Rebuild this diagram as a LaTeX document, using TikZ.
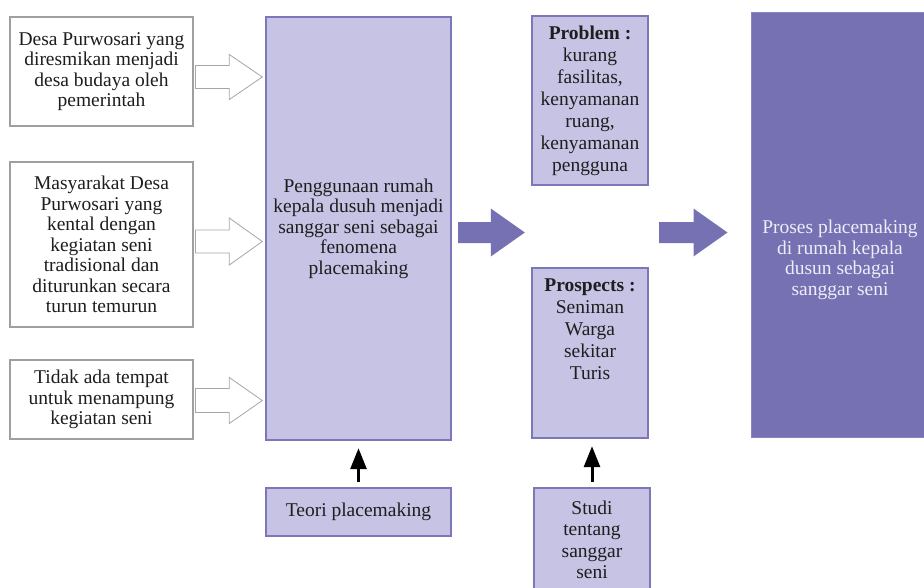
\documentclass[tikz,border=0pt]{standalone}
\usepackage{fontspec}
\setmainfont{Liberation Serif}
\usetikzlibrary{calc,arrows.meta}
\definecolor{lightfill}{HTML}{C6C3E4}
\definecolor{lightdraw}{HTML}{7B77B9}
\definecolor{darkfill}{HTML}{7571B2}
\definecolor{darkdraw}{HTML}{8A85C2}
\definecolor{txt}{HTML}{1E1E1E}
\definecolor{lighttxt}{HTML}{EEEDF7}
\newcommand\blockarr[6]{%
  \path[#1] ($(#2)+(0,-#5)$) -- ($(#3)+(-#4,-#5)$) -- ($(#3)+(-#4,-#6)$) -- (#3)
    -- ($(#3)+(-#4,#6)$) -- ($(#3)+(-#4,#5)$) -- ($(#2)+(0,#5)$) -- cycle;}
\tikzset{
  basefont/.style={font=\fontsize{19.5}{20.5}\selectfont, text=txt, align=center, inner sep=0pt},
  widefont/.style={font=\fontsize{19.5}{22}\selectfont},
  whitebox/.style={basefont, draw=gray!75, line width=1.1pt, fill=white, minimum width=183pt},
  lavbox/.style={basefont, draw=lightdraw, line width=2.4pt, fill=lightfill},
  darkbox/.style={draw=darkdraw, line width=1pt, fill=darkfill},
  hollowarr/.style={draw=gray!70, line width=0.8pt, fill=white},
  solidarr/.style={fill=darkfill},
  blackarr/.style={draw=black, line width=3pt, -{Triangle[width=16pt,length=21pt]}},
}
\begin{document}
\begin{tikzpicture}[x=1pt,y=-1pt]
\useasboundingbox (0,0) rectangle (924,587);
% left boxes
\node[whitebox, minimum height=109pt] (b1) at (101.5,71.5)
  {Desa Purwosari yang\\diresmikan menjadi\\desa budaya oleh\\pemerintah};
\node[whitebox, minimum height=165pt] (b2) at (101.5,244.5)
  {Masyarakat Desa\\Purwosari yang\\kental dengan\\kegiatan seni\\tradisional dan\\diturunkan secara\\turun temurun};
\node[whitebox, minimum height=79pt] (b3) at (101.5,399.5)
  {Tidak ada tempat\\untuk menampung\\kegiatan seni};
% main box
\node[lavbox, minimum width=185pt, minimum height=423pt] (main) at (358.5,228.5)
  {Penggunaan rumah\\kepala dusuh menjadi\\sanggar seni sebagai\\fenomena\\placemaking};
\node[lavbox, minimum width=185pt, minimum height=48pt] (teori) at (358.5,512)
  {Teori placemaking};
% middle column
\node[lavbox, widefont, minimum width=116pt, minimum height=169pt] (prob) at (590,100.5)
  {\textbf{Problem :}\\kurang\\fasilitas,\\kenyamanan\\ruang,\\kenyamanan\\pengguna};
\node[lavbox, minimum width=116pt, minimum height=170pt] (prosp) at (590,353) {};
\node[basefont, widefont, anchor=north] (prosptext) at ($(prosp.north)+(0,12)$)
  {\textbf{Prospects :}\\Seniman\\Warga\\sekitar\\Turis};
\node[lavbox, minimum width=116pt, minimum height=122pt] (studi) at (592,549) {};
\node[basefont, font=\fontsize{19.5}{21.5}\selectfont] (studitext) at ($(studi.north)+(0,53)$)
  {Studi\\tentang\\sanggar\\seni};
% right box
\node[darkbox, minimum width=184pt, minimum height=425pt] (right) at (843,224.5) {};
\node[basefont, text=lighttxt] (righttext) at ($(right.center)+(-3,35.5)$)
  {Proses placemaking\\di rumah kepala\\dusun sebagai\\sanggar seni};
% hollow arrows
\coordinate (h1s) at ($(b1.east)+(2,5.5)$);
\coordinate (h1t) at ($(h1s -| main.west)+(-2.5,0)$);
\coordinate (h2s) at ($(b2.east)+(2,-3)$);
\coordinate (h2t) at ($(h2s -| main.west)+(-2.5,0)$);
\coordinate (h3s) at ($(b3.east)+(2,1)$);
\coordinate (h3t) at ($(h3s -| main.west)+(-2.5,0)$);
\blockarr{hollowarr}{h1s}{h1t}{33}{11.5}{22.5}
\blockarr{hollowarr}{h2s}{h2t}{33}{11.5}{23.5}
\blockarr{hollowarr}{h3s}{h3t}{33}{12}{23}
% solid arrows
\coordinate (s1s) at ($(main.east)+(6,4)$);
\coordinate (s1t) at ($(s1s -| prob.west)+(-6,0)$);
\coordinate (s2s) at ($(s1s -| prob.east)+(10,0)$);
\coordinate (s2t) at ($(s1s -| right.west)+(-23,0)$);
\blockarr{solidarr}{s1s}{s1t}{34}{10.5}{24}
\blockarr{solidarr}{s2s}{s2t}{34}{10.5}{24}
% black arrows
\draw[blackarr] ($(teori.north)+(0,-5)$) -- ($(main.south)+(0,7)$);
\draw[blackarr] ($(studi.north)+(0,-5)$) -- ($(studi.north |- prosp.south)+(0,7)$);
\end{tikzpicture}
\end{document}
